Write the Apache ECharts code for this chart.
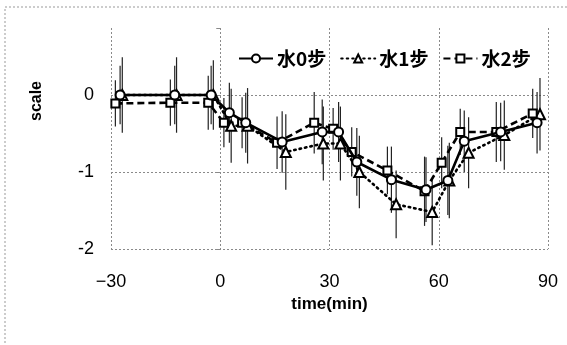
<!DOCTYPE html>
<html><head><meta charset="utf-8">
<script src="https://cdn.jsdelivr.net/npm/echarts@6/dist/echarts.min.js"></script>
<style>html,body{margin:0;padding:0;background:#fff}#c{width:567px;height:345px}</style>
</head><body><div id="c"></div>
<script>
const seriesNames = ['水0步', '水1步', '水2步'];
const xTicks = [-30, 0, 30, 60, 90];
const yTicks = [-2, -1, 0];

const timeW0 = [-27.5, -12.5, -2.5, 2.5, 7, 17, 28, 32.5, 37.5, 47, 56.5, 62.5, 67, 77, 87];
const valW0  = [0, 0, 0, -0.23, -0.36, -0.61, -0.48, -0.48, -0.87, -1.1, -1.23, -1.11, -0.6, -0.48, -0.36];
const errW0  = [0.38, 0.38, 0.38, 0.39, 0.39, 0.4, 0.42, 0.39, 0.44, 0.43, 0.42, 0.45, 0.4, 0.38, 0.4];

const timeW1 = [-26.9, -12, -1.9, 3, 7.5, 18, 28.3, 33, 38.2, 48.3, 58.2, 62.9, 68.2, 78, 87.8];
const valW1  = [0, 0, 0, -0.4, -0.4, -0.74, -0.63, -0.63, -1.0, -1.42, -1.52, -1.11, -0.75, -0.52, -0.25];
const errW1  = [0.49, 0.49, 0.45, 0.48, 0.49, 0.49, 0.48, 0.48, 0.47, 0.44, 0.43, 0.49, 0.46, 0.45, 0.47];

const timeW2 = [-28.8, -13.7, -3.3, 1, 6, 15.6, 25.8, 31, 36.1, 45.9, 56.1, 60.8, 65.9, 75.8, 85.8];
const valW2  = [-0.11, -0.1, -0.1, -0.36, -0.36, -0.62, -0.36, -0.44, -0.74, -0.98, -1.25, -0.88, -0.48, -0.48, -0.24];
const errW2  = [0.3, 0.3, 0.35, 0.32, 0.33, 0.34, 0.4, 0.27, 0.32, 0.31, 0.45, 0.33, 0.3, 0.39, 0.32];

const pts = (t, v) => t.map((x, i) => [x, v[i]]);
const errs = (t, v, e) => t.map((x, i) => [x, v[i] - e[i], v[i] + e[i]]);

function errRender(params, api) {
  const x = api.value(0), lo = api.value(1), hi = api.value(2);
  const p1 = api.coord([x, hi]), p2 = api.coord([x, lo]);
  return {type: 'line', shape: {x1: p1[0], y1: p1[1], x2: p2[0], y2: p2[1]},
          style: {stroke: '#222', lineWidth: 1.2}};
}
function errSeries(data) {
  return {type: 'custom', renderItem: errRender, data: data, encode: {x: 0, y: [1, 2]}, z: 1, silent: true};
}

const gridColor = '#8a8a8a';
const chart = echarts.init(document.getElementById('c'));
chart.setOption({
  animation: false,
  backgroundColor: '#fff',
  graphic: [
    {type: 'rect', shape: {x: 5, y: 7, width: 700, height: 500}, style: {fill: 'none', stroke: '#999', lineWidth: 1, lineDash: [2, 2]}, silent: true, z: -1},
    {type: 'text', x: 37, y: 101, rotation: Math.PI / 2, style: {text: 'scale', font: 'bold 16px "Liberation Sans", Arial, sans-serif', fill: '#000', align: 'center', verticalAlign: 'middle'}}
  ],
  legend: {
    left: 233, top: 44, itemWidth: 34, itemHeight: 10, itemGap: 14,
    textStyle: {fontFamily: '"Noto Sans CJK JP", sans-serif', fontWeight: 'bold', fontSize: 19, color: '#000', padding: [0, 0, 0, -1]},
    data: seriesNames
  },
  grid: {left: 111, right: 19, top: 28, bottom: 96},
  xAxis: {
    type: 'value', min: xTicks[0], max: xTicks[xTicks.length - 1], interval: 30,
    axisLine: {show: false}, axisTick: {show: false},
    splitLine: {show: true, lineStyle: {color: gridColor, type: [2, 2], width: 1}},
    axisLabel: {fontFamily: '"Liberation Sans", Arial, sans-serif', fontSize: 18, color: '#000', margin: 24,
      formatter: v => (v < 0 ? '\u2212' + Math.abs(v) : String(v))},
    name: 'time(min)', nameLocation: 'middle', nameGap: 45,
    nameTextStyle: {fontFamily: '"Liberation Sans", Arial, sans-serif', fontWeight: 'bold', fontSize: 17, color: '#000'}
  },
  yAxis: {
    type: 'value', min: yTicks[0], max: 0.87, interval: 1,
    axisLine: {show: false},
    axisTick: {show: true, length: 4, lineStyle: {color: gridColor}},
    splitLine: {show: true, lineStyle: {color: [gridColor, gridColor, gridColor, 'rgba(0,0,0,0)'], type: [2, 2], width: 1}},
    axisLabel: {fontFamily: '"Liberation Sans", Arial, sans-serif', fontSize: 18, color: '#000', margin: 17,
      formatter: v => (v > 0.5 ? '' : String(Math.round(v)))}
  },
  series: [
    errSeries(errs(timeW0, valW0, errW0)),
    errSeries(errs(timeW1, valW1, errW1)),
    errSeries(errs(timeW2, valW2, errW2)),
    {name: seriesNames[0], type: 'line', data: pts(timeW0, valW0), symbol: 'emptyCircle', symbolSize: 9, z: 4,
     lineStyle: {color: '#000', width: 2.6}, itemStyle: {color: '#000', borderWidth: 1.3}},
    {name: seriesNames[1], type: 'line', data: pts(timeW1, valW1), symbol: 'emptyTriangle', symbolSize: 10, z: 3,
     lineStyle: {color: '#000', width: 2.6, type: [1.5, 4], cap: 'round'}, itemStyle: {color: '#000', borderWidth: 1.3}},
    {name: seriesNames[2], type: 'line', data: pts(timeW2, valW2), symbol: 'emptyRect', symbolSize: 8, z: 3,
     lineStyle: {color: '#000', width: 2.6, type: [7, 4]}, itemStyle: {color: '#000', borderWidth: 1.3}}
  ]
});
</script></body></html>
